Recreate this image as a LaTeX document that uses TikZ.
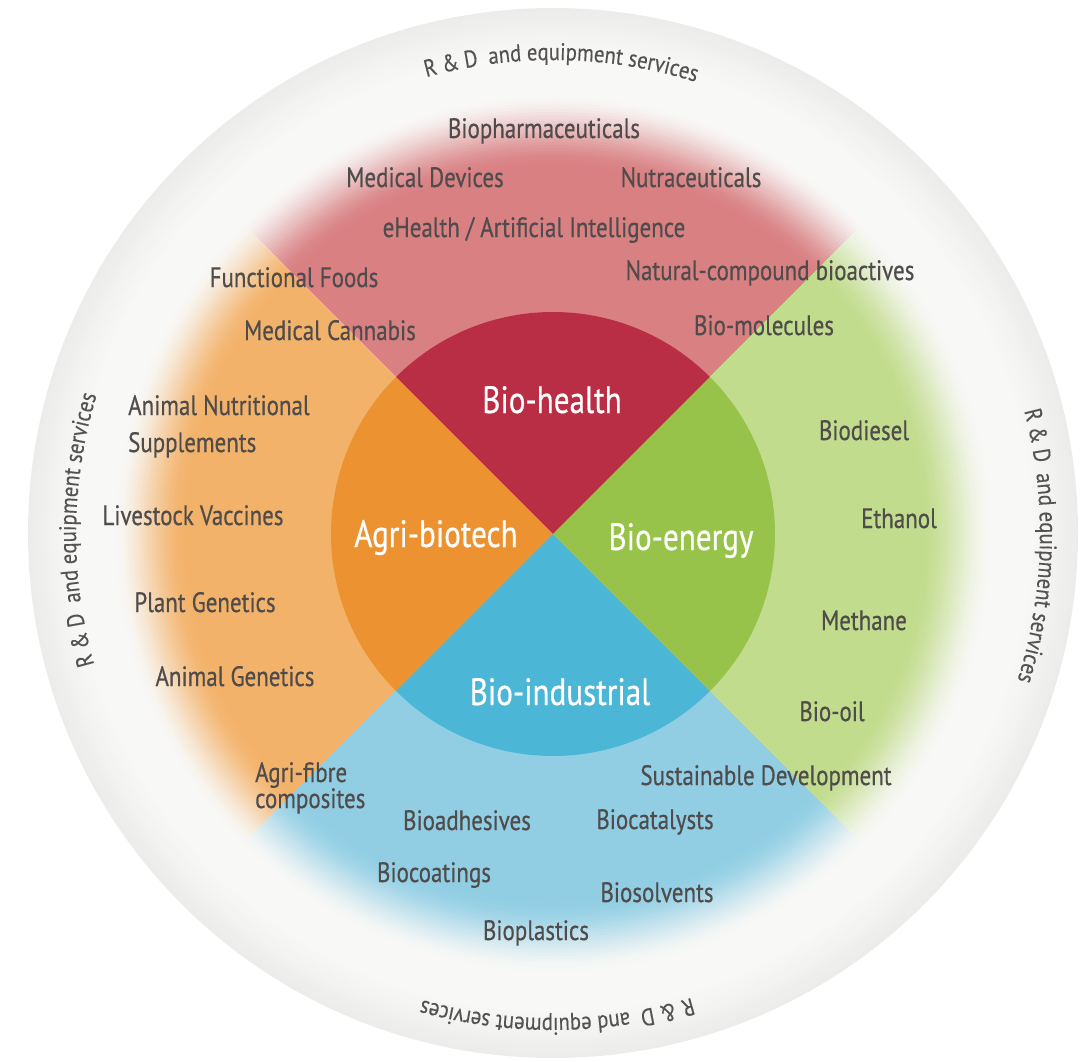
\documentclass[tikz,border=0pt]{standalone}
\usepackage{fontspec}
\setmainfont[FakeStretch=0.82,FakeBold=0.5]{PT Sans}
\newfontfamily\ringfont[FakeStretch=0.86,FakeBold=0.3]{PT Sans}
\usetikzlibrary{decorations.text}
\definecolor{ringin}{HTML}{F8F8F6}
\definecolor{ringout}{HTML}{ECECEA}
\definecolor{redpale}{HTML}{D98083}
\definecolor{orangepale}{HTML}{F3B26A}
\definecolor{greenpale}{HTML}{C1DC8C}
\definecolor{bluepale}{HTML}{91CEE4}
\definecolor{corered}{HTML}{BA2E45}
\definecolor{coreorange}{HTML}{EC9230}
\definecolor{coregreen}{HTML}{97C34A}
\definecolor{coreblue}{HTML}{4CB6D6}
\definecolor{itemtext}{HTML}{4F4C4B}
\definecolor{ringtext}{HTML}{555352}
\newcommand{\fadequadrant}[3]{%
  \begin{scope}
    \clip (0,0) -- (#1:700) -- (#2:700) -- cycle;
    \foreach \k in {1,...,25}{%
      \pgfmathsetmacro\rr{443-3*\k}%
      \pgfmathtruncatemacro\pp{100*(\k/25)^2*(3-2*\k/25)}%
      \fill[#3!\pp!ringin] (0,0) circle (\rr);
    }
  \end{scope}}
\begin{document}
\begin{tikzpicture}[x=1pt,y=1pt,
  item/.style={font=\fontsize{28}{30}\selectfont, text=itemtext, inner sep=0pt, anchor=base},
  itemleft/.style={item, anchor=base west},
  core/.style={font=\fontsize{38}{40}\selectfont, text=white, inner sep=0pt, anchor=base},
  ringlabel/.style={decorate, decoration={text along path, text align=center,
    text={|\ringfont\fontsize{24}{26}\selectfont\color{ringtext}|R {\&} D {\hspace{5pt}}and equipment services}}}]
\useasboundingbox (-553,-527) rectangle (538,534);
% outer ring with slightly darker rim
\foreach \k in {0,...,15}{%
  \pgfmathsetmacro\rr{525-3*\k}%
  \pgfmathtruncatemacro\pp{100-100*\k/15}%
  \fill[ringout!\pp!ringin] (0,1) circle (\rr);
}
% pale quadrants fading outward
\fadequadrant{45}{135}{redpale}
\fadequadrant{135}{225}{orangepale}
\fadequadrant{225}{315}{bluepale}
\fadequadrant{-45}{45}{greenpale}
% core disk
\fill[corered] (0,0) -- (45:222) arc (45:135:222) -- cycle;
\fill[coreorange] (0,0) -- (135:222) arc (135:225:222) -- cycle;
\fill[coreblue] (0,0) -- (225:222) arc (225:315:222) -- cycle;
\fill[coregreen] (0,0) -- (-45:222) arc (-45:45:222) -- cycle;
% ring labels
\path[ringlabel] (129:474) arc (129:49:474);
\path[ringlabel] (219.5:477) arc (219.5:139.5:477);
\path[ringlabel] (38.6:487) arc (38.6:-41.4:487);
\path[ringlabel] (310.5:484) arc (310.5:230.5:484);
% core labels
\node[core] (health) at (-1,121) {Bio-health};
\node[core] (agri) at (-117,-13) {Agri-biotech};
\node[core] (energy) at (128,-16) {Bio-energy};
\node[core] (industrial) at (7,-171) {Bio-industrial};
% bio-health items
\node[item] (biopharm) at (-9,396) {Biopharmaceuticals};
\node[item] (meddev) at (-128,347) {Medical Devices};
\node[item] (nutra) at (138,347) {Nutraceuticals};
\node[item] (ehealth) at (-19,297) {eHealth / Artificial Intelligence};
\node[item] (natural) at (217,254) {Natural-compound bioactives};
\node[item] (biomol) at (211,199) {Bio-molecules};
\node[item] (funcfood) at (-259,247) {Functional Foods};
\node[item] (cannabis) at (-223,194) {Medical Cannabis};
% agri-biotech items
\node[itemleft] (animnut) at (-425,119) {Animal Nutritional};
\node[itemleft] (animsup) at (-425,82) {Supplements};
\node[item] (livestock) at (-360,9) {Livestock Vaccines};
\node[item] (plantgen) at (-348,-78) {Plant Genetics};
\node[item] (animgen) at (-318,-152) {Animal Genetics};
\node[itemleft] (agrifibre) at (-298,-248) {Agri-fibre};
\node[itemleft] (composites) at (-298,-274) {composites};
% bio-energy items
\node[item] (biodiesel) at (311,94) {Biodiesel};
\node[item] (ethanol) at (346,6) {Ethanol};
\node[item] (methane) at (311,-96) {Methane};
\node[item] (biooil) at (279,-187) {Bio-oil};
\node[item] (sustain) at (213,-251) {Sustainable Development};
% bio-industrial items
\node[item] (bioadh) at (-86,-296) {Bioadhesives};
\node[item] (biocat) at (102,-295) {Biocatalysts};
\node[item] (biocoat) at (-119,-348) {Biocoatings};
\node[item] (biosolv) at (104,-368) {Biosolvents};
\node[item] (bioplast) at (-17,-406) {Bioplastics};
\end{tikzpicture}
\end{document}
